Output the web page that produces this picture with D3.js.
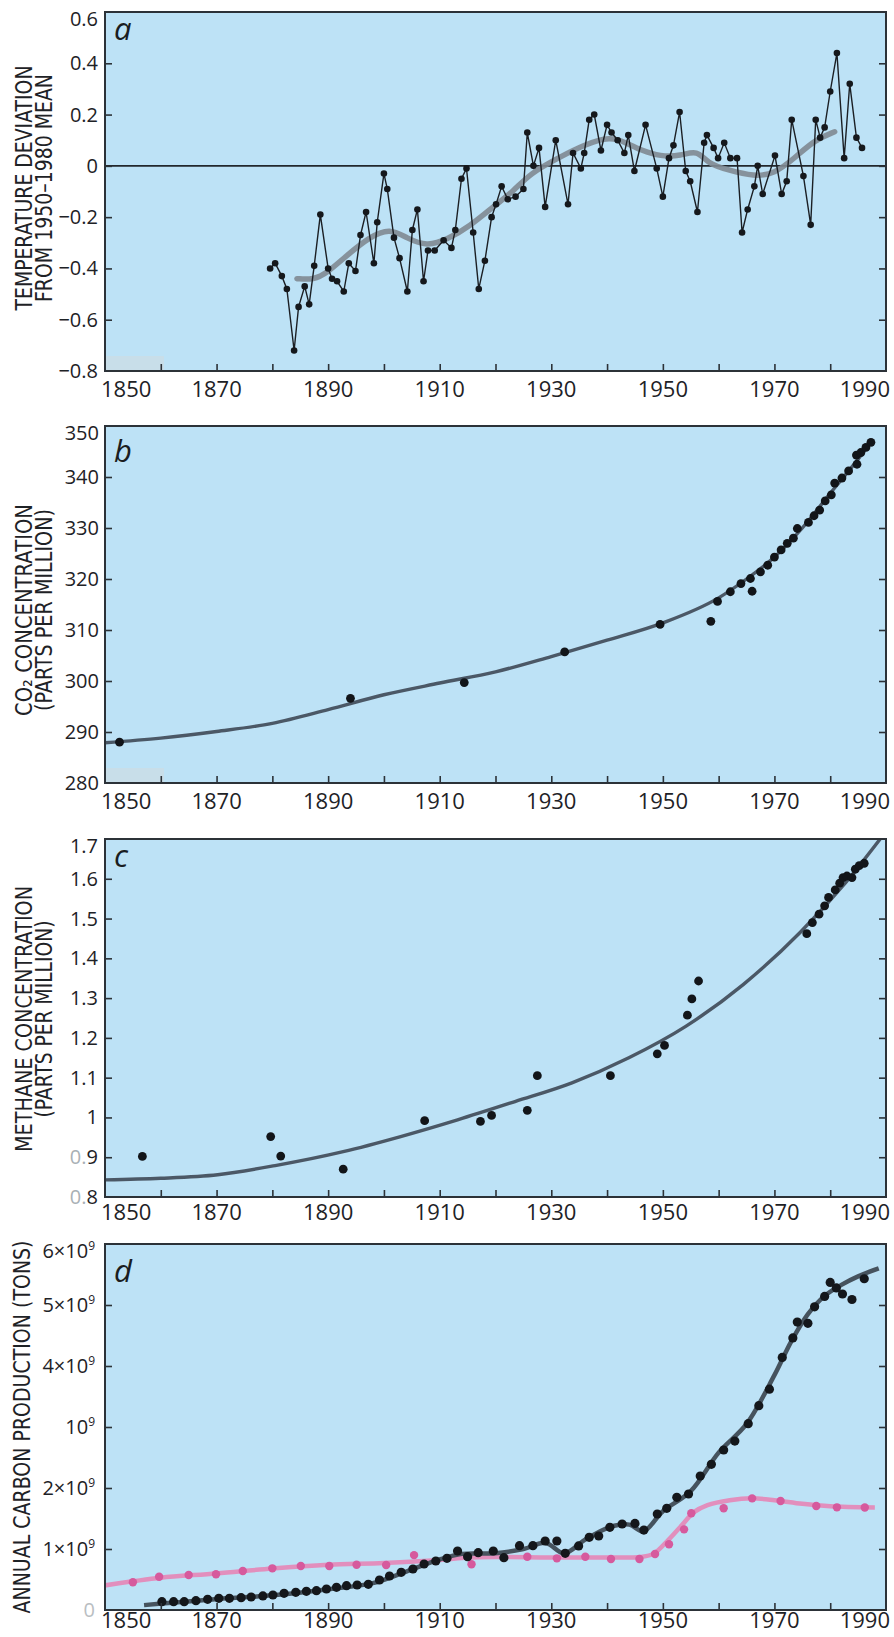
<!DOCTYPE html>
<html>
<head>
<meta charset="utf-8">
<script src="https://cdn.jsdelivr.net/npm/d3@7/dist/d3.min.js"></script>
<style>
  body { margin: 0; background: #ffffff; }
  svg { display: block; }
</style>
</head>
<body>
<script>
// ---------- data ----------

// panel a : annual temperature deviation
const tempYears = [1879.6, 1880.5, 1881.7, 1882.6, 1883.9, 1884.7, 1885.8, 1886.6, 1887.5, 1888.6,
  1890.0, 1890.7, 1891.6, 1892.8, 1893.7, 1894.9, 1895.8, 1896.8, 1898.2, 1898.8,
  1900.0, 1900.6, 1901.8, 1902.8, 1904.2, 1905.1, 1906.0, 1907.1, 1907.9, 1909.1,
  1910.7, 1912.1, 1912.8, 1913.9, 1914.8, 1916.0, 1917.0, 1918.1, 1919.3, 1920.1,
  1921.1, 1922.2, 1923.6, 1925.0, 1925.7, 1926.8, 1927.8, 1928.9, 1930.8, 1933.0,
  1933.9, 1935.3, 1935.9, 1936.8, 1937.7, 1938.9, 1940.0, 1940.8, 1941.9, 1943.1,
  1943.8, 1944.9, 1946.9, 1948.9, 1950.0, 1951.1, 1951.9, 1953.0, 1954.1, 1954.9,
  1956.2, 1957.4, 1957.9, 1959.1, 1959.9, 1961.0, 1962.1, 1963.3, 1964.2, 1965.2,
  1966.4, 1967.0, 1967.9, 1970.1, 1971.3, 1972.2, 1973.1, 1975.2, 1976.5, 1977.4,
  1978.2, 1979.0, 1980.0, 1981.2, 1982.5, 1983.5, 1984.7, 1985.7];
const tempValues = [-0.40, -0.38, -0.43, -0.48, -0.72, -0.55, -0.47, -0.54, -0.39, -0.19,
  -0.40, -0.44, -0.45, -0.49, -0.38, -0.41, -0.27, -0.18, -0.38, -0.22,
  -0.03, -0.09, -0.28, -0.36, -0.49, -0.25, -0.17, -0.45, -0.33, -0.33,
  -0.29, -0.32, -0.25, -0.05, -0.01, -0.26, -0.48, -0.37, -0.20, -0.15,
  -0.08, -0.13, -0.12, -0.09, 0.13, 0.00, 0.07, -0.16, 0.10, -0.15,
  0.05, -0.01, 0.05, 0.18, 0.20, 0.06, 0.16, 0.13, 0.10, 0.05,
  0.12, -0.02, 0.16, -0.01, -0.12, 0.03, 0.08, 0.21, -0.02, -0.06,
  -0.18, 0.09, 0.12, 0.07, 0.03, 0.09, 0.03, 0.03, -0.26, -0.17,
  -0.08, 0.00, -0.11, 0.04, -0.11, -0.06, 0.18, -0.04, -0.23, 0.18,
  0.11, 0.15, 0.29, 0.44, 0.03, 0.32, 0.11, 0.07];
// smoothed temperature curve
const tempSmoothYears = [1884.4, 1887.4, 1889.8, 1893.3, 1897.5, 1901.1, 1904.1, 1907.7, 1911.3, 1915.4,
  1919.6, 1923.2, 1926.2, 1931.6, 1935.8, 1940.6, 1943.6, 1946.0, 1949.6, 1953.2,
  1956.2, 1958.0, 1961.6, 1966.4, 1970.0, 1973.6, 1977.2, 1980.8];
const tempSmoothValues = [-0.44, -0.444, -0.418, -0.35, -0.276, -0.243, -0.282, -0.314, -0.288, -0.236,
  -0.159, -0.10, -0.029, 0.035, 0.081, 0.116, 0.088, 0.062, 0.036, 0.039,
  0.062, 0.01, -0.016, -0.042, -0.031, 0.03, 0.101, 0.133];

// panel b : CO2 (ppm)
const co2Years = [1852.6, 1894.0, 1914.4, 1932.4, 1949.5, 1958.6, 1959.8, 1962.1, 1964.0, 1965.7,
  1966.0, 1967.5, 1968.8, 1970.0, 1971.2, 1972.3, 1973.4, 1974.1, 1976.1, 1977.1,
  1978.1, 1979.1, 1980.2, 1980.8, 1982.1, 1983.3, 1984.8, 1984.7, 1985.5, 1986.4, 1987.3];
const co2Values = [288.0, 296.6, 299.7, 305.7, 311.1, 311.7, 315.6, 317.5, 319.1, 320.1,
  317.6, 321.4, 322.7, 324.3, 325.7, 327.0, 328.0, 329.9, 331.1, 332.4,
  333.5, 335.3, 336.5, 338.8, 339.8, 341.2, 342.5, 344.3, 344.8, 345.8, 346.8];
const co2CurveYears = [1850, 1860, 1870, 1880, 1890, 1900, 1910, 1920, 1930, 1940, 1950, 1960, 1965, 1970, 1975, 1980, 1985, 1987.5];
const co2CurveValues = [287.9, 288.8, 290.1, 291.7, 294.4, 297.3, 299.6, 301.8, 304.8, 308.0, 311.4, 316.3, 320.0, 324.3, 330.0, 336.8, 343.5, 347.2];

// panel c : methane (ppm)
const ch4Years = [1856.7, 1879.7, 1881.5, 1892.7, 1907.3, 1917.3, 1919.3, 1925.7, 1927.5, 1940.6,
  1949.0, 1950.3, 1954.4, 1955.2, 1956.4, 1975.8, 1976.8, 1978.0, 1979.0, 1979.7,
  1980.9, 1981.7, 1982.3, 1983.0, 1983.9, 1984.5, 1985.2, 1986.1];
const ch4Values = [0.902, 0.952, 0.903, 0.870, 0.992, 0.990, 1.005, 1.018, 1.105, 1.105,
  1.160, 1.181, 1.257, 1.298, 1.343, 1.462, 1.490, 1.511, 1.532, 1.553,
  1.572, 1.589, 1.603, 1.607, 1.603, 1.624, 1.633, 1.639];
const ch4CurveYears = [1850, 1860, 1870.2, 1880.5, 1892.7, 1903, 1913.2, 1923.5, 1933.7, 1943.9, 1954.1, 1964.4, 1974.6, 1982.8, 1989.5];
const ch4CurveValues = [0.843, 0.847, 0.856, 0.879, 0.914, 0.952, 0.994, 1.040, 1.087, 1.150, 1.229, 1.334, 1.465, 1.591, 1.71];

// panel d : annual carbon production (billions of tons)
const coalYears = [1860.2, 1862.3, 1864.2, 1866.3, 1868.4, 1870.4, 1872.3, 1874.4, 1876.2, 1878.3,
  1880.1, 1882.1, 1884.2, 1886.1, 1887.9, 1889.7, 1891.5, 1893.3, 1895.2, 1897.2,
  1899.2, 1901.0, 1903.1, 1905.2, 1907.2, 1909.3, 1911.3, 1913.2, 1915.0, 1916.9,
  1919.6, 1921.5, 1924.3, 1926.7, 1928.9, 1931.0, 1932.5, 1934.9, 1936.8, 1938.5,
  1940.5, 1942.7, 1945.0, 1946.6, 1949.0, 1950.7, 1952.5, 1954.6, 1956.7, 1958.7,
  1960.9, 1962.9, 1965.3, 1967.2, 1969.1, 1971.4, 1973.3, 1974.1, 1976.0, 1977.2,
  1979.0, 1980.0, 1981.1, 1982.2, 1983.9, 1986.1];
const coalValues = [0.137, 0.137, 0.137, 0.153, 0.175, 0.191, 0.191, 0.202, 0.213, 0.23,
  0.246, 0.273, 0.29, 0.306, 0.317, 0.344, 0.372, 0.399, 0.41, 0.421,
  0.492, 0.557, 0.617, 0.672, 0.754, 0.803, 0.847, 0.967, 0.874, 0.94,
  0.967, 0.858, 1.054, 1.054, 1.131, 1.131, 0.929, 1.05, 1.191, 1.213,
  1.355, 1.41, 1.42, 1.311, 1.574, 1.667, 1.847, 1.902, 2.197, 2.388,
  2.623, 2.77, 3.055, 3.35, 3.62, 4.14, 4.46, 4.72, 4.70, 4.97,
  5.14, 5.37, 5.28, 5.18, 5.09, 5.43];
const coalCurveYears = [1857, 1862, 1870, 1880, 1890, 1898, 1904, 1910, 1914, 1920, 1925, 1929, 1932.3, 1936,
  1940.5, 1944, 1946.5, 1950, 1955, 1960, 1965, 1970, 1973, 1976, 1979, 1982, 1985, 1988.7];
const coalCurveValues = [0.08, 0.12, 0.18, 0.24, 0.34, 0.44, 0.63, 0.83, 0.92, 0.93, 1.0, 1.1, 0.93, 1.15,
  1.36, 1.40, 1.29, 1.62, 1.95, 2.58, 3.05, 3.85, 4.40, 4.85, 5.15, 5.33, 5.47, 5.60];
const oilYears = [1855.0, 1859.7, 1865.0, 1869.9, 1874.7, 1880.0, 1885.1, 1890.2, 1895.1, 1900.4,
  1905.4, 1915.7, 1925.7, 1931.0, 1936.1, 1940.7, 1945.8, 1948.6, 1951.1, 1953.8,
  1955.1, 1960.9, 1966.0, 1971.1, 1977.5, 1981.2, 1986.2];
const oilValues = [0.454, 0.546, 0.574, 0.585, 0.639, 0.683, 0.721, 0.721, 0.743, 0.738,
  0.90, 0.749, 0.874, 0.847, 0.874, 0.836, 0.836, 0.918, 1.077, 1.322,
  1.585, 1.667, 1.83, 1.787, 1.705, 1.683, 1.68];
const oilCurveYears = [1849, 1855, 1860, 1870, 1880, 1890, 1900, 1910, 1915, 1920, 1930, 1940, 1946,
  1948.3, 1951, 1953.7, 1955.5, 1958, 1962, 1966, 1970, 1975, 1980, 1988];
const oilCurveValues = [0.39, 0.47, 0.53, 0.60, 0.68, 0.74, 0.77, 0.82, 0.86, 0.87, 0.86, 0.86, 0.87,
  0.92, 1.15, 1.42, 1.60, 1.72, 1.80, 1.83, 1.80, 1.74, 1.70, 1.68];

// axis ticks / labels
const decadeTicks = [1850, 1860, 1870, 1880, 1890, 1900, 1910, 1920, 1930, 1940, 1950, 1960, 1970, 1980, 1990];
const yearLabels = [1850, 1870, 1890, 1910, 1930, 1950, 1970, 1990];
const aTicks = [-0.8, -0.6, -0.4, -0.2, 0, 0.2, 0.4, 0.6];
const aTickLabels = ['\u22120.8', '\u22120.6', '\u22120.4', '\u22120.2', '0', '0.2', '0.4', '0.6'];
const bTicks = [280, 290, 300, 310, 320, 330, 340, 350];
const bTickLabels = ['280', '290', '300', '310', '320', '330', '340', '350'];
const cTicks = [0.8, 0.9, 1.0, 1.1, 1.2, 1.3, 1.4, 1.5, 1.6, 1.7];
const cTickLabels = ['0.8', '0.9', '1', '1.1', '1.2', '1.3', '1.4', '1.5', '1.6', '1.7'];
const dTicks = [0, 1, 2, 3, 4, 5, 6];
const dTickLabels = ['0', '1\u00d710\u2079', '2\u00d710\u2079', '10\u2079', '4\u00d710\u2079', '5\u00d710\u2079', '6\u00d710\u2079'];

// ---------- styles ----------
const W = 894, H = 1637;
const BG = '#bde2f6';
const INK = '#2c3238';
const TICK_FONT = '"Open Sans", "DejaVu Sans", sans-serif';
const TITLE_FONT = '"DejaVu Sans", sans-serif';

const svg = d3.select('body').append('svg')
  .attr('width', W)
  .attr('height', H)
  .attr('xmlns', 'http://www.w3.org/2000/svg');

svg.append('rect').attr('width', W).attr('height', H).attr('fill', '#ffffff');

const x = d3.scaleLinear().domain([1850, 1990]).range([105, 886]);

// draws the frame, ticks, labels of one panel and returns its y scale + clipped group
function drawPanel(cfg) {
  const y = d3.scaleLinear().domain(cfg.domain).range([cfg.bottom, cfg.top]);
  const g = svg.append('g');
  const x0 = x.range()[0], x1 = x.range()[1];

  g.append('rect')
    .attr('x', x0).attr('y', cfg.top)
    .attr('width', x1 - x0).attr('height', cfg.bottom - cfg.top)
    .attr('fill', BG);

  // faint scanned patch at lower-left corner (panels a, b)
  if (cfg.patch) {
    g.append('rect')
      .attr('x', x0 + 1).attr('y', cfg.bottom - 15)
      .attr('width', 58).attr('height', 14)
      .attr('fill', '#cbdde6').attr('opacity', 0.8);
  }

  svg.append('clipPath').attr('id', 'clip-' + cfg.key)
    .append('rect')
    .attr('x', x0).attr('y', cfg.top)
    .attr('width', x1 - x0).attr('height', cfg.bottom - cfg.top);

  const plot = g.append('g').attr('clip-path', `url(#clip-${cfg.key})`);

  // inward ticks
  const inner = cfg.ticks.slice(1, -1);
  const tickStyle = s => {
    s.select('.domain').remove();
    s.selectAll('line').attr('stroke', INK).attr('stroke-width', 1.6);
  };
  g.append('g').attr('transform', `translate(0,${cfg.bottom})`)
    .call(d3.axisBottom(x).tickValues(decadeTicks.slice(1, -1)).tickSize(-7).tickFormat(''))
    .call(tickStyle);
  g.append('g').attr('transform', `translate(${x0},0)`)
    .call(d3.axisLeft(y).tickValues(inner).tickSize(-7).tickFormat(''))
    .call(tickStyle);
  g.append('g').attr('transform', `translate(${x1},0)`)
    .call(d3.axisRight(y).tickValues(inner).tickSize(-7).tickFormat(''))
    .call(tickStyle);

  // frame
  g.append('rect')
    .attr('x', x0).attr('y', cfg.top)
    .attr('width', x1 - x0).attr('height', cfg.bottom - cfg.top)
    .attr('fill', 'none').attr('stroke', INK).attr('stroke-width', 2);

  // y tick labels
  cfg.ticks.forEach((v, i) => {
    const lab = cfg.labels[i];
    const yy = y(v) + 7 + (i === cfg.ticks.length - 1 ? 7 : 0);
    const t = g.append('text')
      .attr('x', cfg.labelX).attr('y', yy)
      .attr('text-anchor', 'end')
      .attr('font-family', TICK_FONT).attr('font-size', 20)
      .attr('fill', '#1e2226');
    if (cfg.faint && cfg.faint.includes(i)) {
      if (lab === '0') {
        t.attr('fill', '#b9bec2').text(lab);
      } else {
        t.append('tspan').attr('fill', '#a9b0b5').text(lab.slice(0, 2));
        t.append('tspan').text(lab.slice(2));
      }
    } else if (lab.endsWith('\u2079')) {
      t.append('tspan').text(lab.slice(0, -1));
      t.append('tspan').attr('font-size', 12).attr('dy', -8).text('9');
    } else {
      t.text(lab);
    }
  });

  // x tick labels
  yearLabels.forEach((yr, i) => {
    let anchor = 'middle', dx = 0;
    if (i === 0) { anchor = 'start'; dx = -4; }
    if (i === yearLabels.length - 1) { anchor = 'end'; dx = 4; }
    g.append('text')
      .attr('x', x(yr) + dx).attr('y', cfg.xLabelY)
      .attr('text-anchor', anchor)
      .attr('font-family', TICK_FONT).attr('font-size', 22)
      .attr('fill', '#1e2226')
      .text(yr);
  });

  // rotated axis title, squeezed to the reference line lengths
  cfg.title.forEach((line, i) => {
    const bx = cfg.titleX + i * 20;
    g.append('text')
      .attr('transform', `translate(${bx},${cfg.titleY}) rotate(-90)`)
      .attr('text-anchor', 'middle')
      .attr('font-family', TITLE_FONT).attr('font-size', 23)
      .attr('textLength', cfg.titleLen[i])
      .attr('lengthAdjust', 'spacingAndGlyphs')
      .attr('fill', '#1e2226')
      .text(line);
  });

  // panel letter
  g.append('text')
    .attr('x', 114).attr('y', cfg.letterY)
    .attr('font-family', TICK_FONT).attr('font-style', 'italic')
    .attr('font-size', 31).attr('fill', '#1a1d21')
    .text(cfg.key);

  return { y, plot };
}

const pts = (xs, ys) => d3.zip(xs, ys);

// ---------- panel a ----------
{
  const { y, plot } = drawPanel({
    key: 'a', domain: [-0.8, 0.6], top: 12, bottom: 371,
    ticks: aTicks, labels: aTickLabels, labelX: 98, xLabelY: 397,
    title: ['TEMPERATURE DEVIATION', 'FROM 1950\u20131980 MEAN'], titleLen: [245, 228],
    titleX: 32, titleY: 188, letterY: 40, patch: true
  });

  // zero line
  plot.append('line')
    .attr('x1', x(1850)).attr('x2', x(1990))
    .attr('y1', y(0)).attr('y2', y(0))
    .attr('stroke', '#22272c').attr('stroke-width', 1.6);

  const smooth = d3.line().x(d => x(d[0])).y(d => y(d[1])).curve(d3.curveBasis);
  plot.append('path')
    .attr('d', smooth(pts(tempSmoothYears, tempSmoothValues)))
    .attr('fill', 'none').attr('stroke', '#7f8992').attr('stroke-width', 5.5)
    .attr('stroke-linecap', 'round').attr('opacity', 0.9);

  const raw = d3.line().x(d => x(d[0])).y(d => y(d[1]));
  plot.append('path')
    .attr('d', raw(pts(tempYears, tempValues)))
    .attr('fill', 'none').attr('stroke', '#1b1f24').attr('stroke-width', 1.4);

  plot.selectAll('circle.t').data(pts(tempYears, tempValues)).join('circle')
    .attr('class', 't')
    .attr('cx', d => x(d[0])).attr('cy', d => y(d[1])).attr('r', 3.3)
    .attr('fill', '#15181c');
}

// ---------- panel b ----------
{
  const { y, plot } = drawPanel({
    key: 'b', domain: [280, 350], top: 426, bottom: 783,
    ticks: bTicks, labels: bTickLabels, labelX: 99, xLabelY: 809,
    title: ['CO\u2082 CONCENTRATION', '(PARTS PER MILLION)'], titleLen: [212, 202],
    titleX: 32, titleY: 610, letterY: 462, patch: true
  });
  const curve = d3.line().x(d => x(d[0])).y(d => y(d[1])).curve(d3.curveMonotoneX);
  plot.append('path')
    .attr('d', curve(pts(co2CurveYears, co2CurveValues)))
    .attr('fill', 'none').attr('stroke', '#4b5866').attr('stroke-width', 3.4);
  plot.selectAll('circle').data(pts(co2Years, co2Values)).join('circle')
    .attr('cx', d => x(d[0])).attr('cy', d => y(d[1])).attr('r', 4.4)
    .attr('fill', '#121519');
}

// ---------- panel c ----------
{
  const { y, plot } = drawPanel({
    key: 'c', domain: [0.8, 1.7], top: 839, bottom: 1197,
    ticks: cTicks, labels: cTickLabels, labelX: 98, xLabelY: 1220,
    title: ['METHANE CONCENTRATION', '(PARTS PER MILLION)'], titleLen: [266, 197],
    titleX: 32, titleY: 1019, letterY: 867, faint: [0, 1]
  });
  const curve = d3.line().x(d => x(d[0])).y(d => y(d[1])).curve(d3.curveMonotoneX);
  plot.append('path')
    .attr('d', curve(pts(ch4CurveYears, ch4CurveValues)))
    .attr('fill', 'none').attr('stroke', '#4b5866').attr('stroke-width', 3.4);
  plot.selectAll('circle').data(pts(ch4Years, ch4Values)).join('circle')
    .attr('cx', d => x(d[0])).attr('cy', d => y(d[1])).attr('r', 4.4)
    .attr('fill', '#121519');
}

// ---------- panel d ----------
{
  const { y, plot } = drawPanel({
    key: 'd', domain: [0, 6], top: 1244, bottom: 1610,
    ticks: dTicks, labels: dTickLabels, labelX: 95, xLabelY: 1628,
    title: ['ANNUAL CARBON PRODUCTION (TONS)'], titleLen: [373],
    titleX: 30, titleY: 1427, letterY: 1282, faint: [0]
  });
  const curve = d3.line().x(d => x(d[0])).y(d => y(d[1])).curve(d3.curveCatmullRom);

  plot.append('path')
    .attr('d', curve(pts(oilCurveYears, oilCurveValues)))
    .attr('fill', 'none').attr('stroke', '#e28fbd').attr('stroke-width', 4.5);
  plot.selectAll('circle.oil').data(pts(oilYears, oilValues)).join('circle')
    .attr('class', 'oil')
    .attr('cx', d => x(d[0])).attr('cy', d => y(d[1])).attr('r', 4.2)
    .attr('fill', '#d65a9d');

  plot.append('path')
    .attr('d', curve(pts(coalCurveYears, coalCurveValues)))
    .attr('fill', 'none').attr('stroke', '#46535e').attr('stroke-width', 4.5);
  plot.selectAll('circle.coal').data(pts(coalYears, coalValues)).join('circle')
    .attr('class', 'coal')
    .attr('cx', d => x(d[0])).attr('cy', d => y(d[1])).attr('r', 4.6)
    .attr('fill', '#14171b');
}
</script>
</body>
</html>
